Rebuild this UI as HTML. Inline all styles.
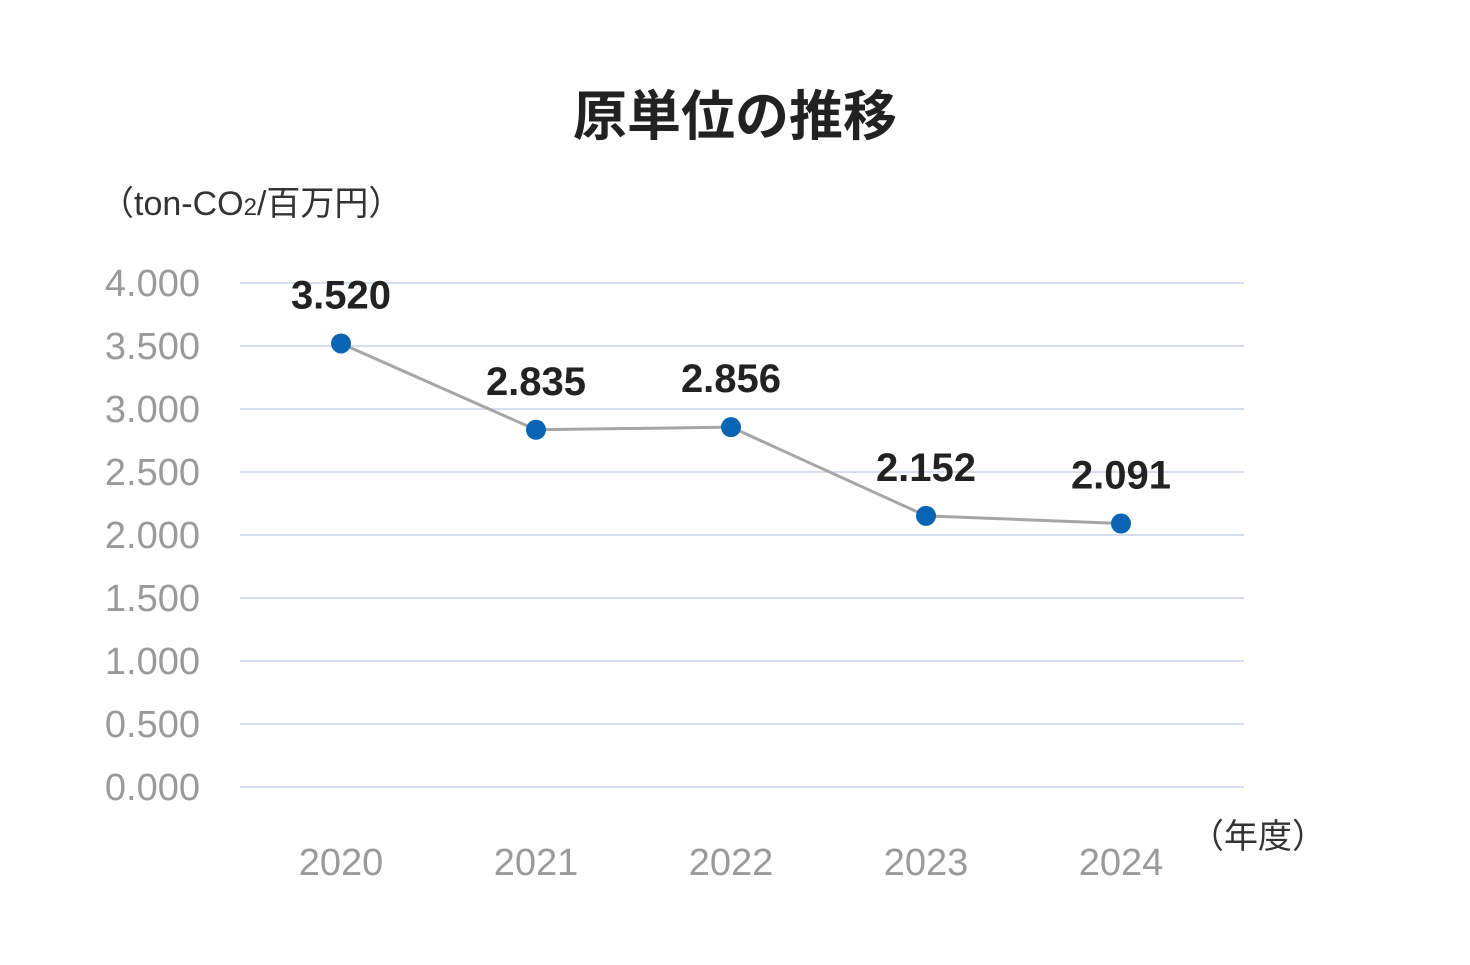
<!DOCTYPE html>
<html><head><meta charset="utf-8">
<style>
html,body{margin:0;padding:0;background:#fff;}
body{width:1470px;height:960px;overflow:hidden;font-family:"Liberation Sans","Noto Sans CJK JP",sans-serif;}
</style></head>
<body>
<svg id="chart" width="1470" height="960" xmlns="http://www.w3.org/2000/svg" style="font-family:'Liberation Sans','Noto Sans CJK JP',sans-serif">
<text x="735" y="135" text-anchor="middle" font-size="54" font-weight="bold" fill="#222">原単位の推移</text>
<text x="100" y="215" font-size="34" fill="#333">（ton-CO<tspan font-size="24">2</tspan>/百万円）</text>
<text x="1190" y="848" font-size="34" fill="#333">（年度）</text>
<g id="grid"></g><g id="marks"></g>
</svg>
<script>
const years = ["2020","2021","2022","2023","2024"];
const values = [3.520, 2.835, 2.856, 2.152, 2.091];
const valueLabels = ["3.520","2.835","2.856","2.152","2.091"];
const yTicks = [0,0.5,1,1.5,2,2.5,3,3.5,4];
const yTickLabels = ["0.000","0.500","1.000","1.500","2.000","2.500","3.000","3.500","4.000"];

const NS="http://www.w3.org/2000/svg";
function y(v){return 283+(4-v)*126;}
function x(i){return 341+i*195;}
function mk(tag,attrs,parent,txt){const e=document.createElementNS(NS,tag);for(const k in attrs)e.setAttribute(k,attrs[k]);if(txt!==undefined)e.textContent=txt;parent.appendChild(e);return e;}
const grid=document.getElementById('grid'), marks=document.getElementById('marks');
yTicks.forEach((t,i)=>{
  const l=mk('line',{x1:240,x2:1244,y1:y(t),y2:y(t),stroke:'#d6def0','stroke-width':2},grid);
  
  
  const tx=mk('text',{x:200,y:y(t)+13,'text-anchor':'end','font-size':38,fill:'#9a9a9a'},grid,yTickLabels[i]);
  
  
});
years.forEach((yr,i)=>{
  const tx=mk('text',{x:x(i),y:875,'text-anchor':'middle','font-size':38,fill:'#9a9a9a'},grid,yr);
  
  
});
const pts=values.map((v,i)=>x(i)+','+y(v)).join(' ');
const pl=mk('polyline',{points:pts,fill:'none',stroke:'#a6a6a6','stroke-width':3},marks);


values.forEach((v,i)=>{
  const c=mk('circle',{cx:x(i),cy:y(v),r:10,fill:'#0a64b4'},marks);
  
  
  const t=mk('text',{x:x(i),y:y(v)-35,'text-anchor':'middle','font-size':40,'font-weight':'bold',fill:'#222'},marks,valueLabels[i]);
  
  
});
</script>
</body></html>
